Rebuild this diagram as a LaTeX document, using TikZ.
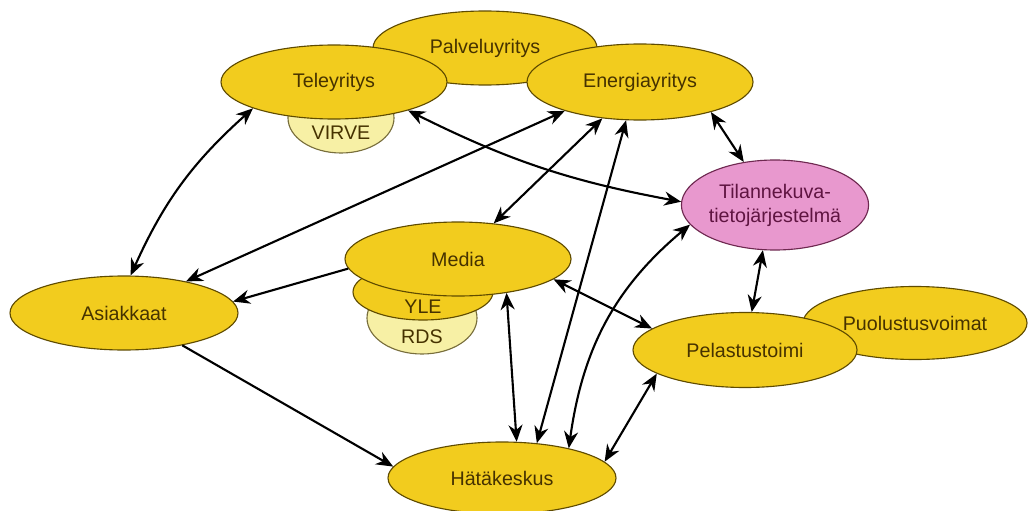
\documentclass[tikz,border=0pt]{standalone}
\usepackage{fontspec}
\setmainfont{Liberation Sans}
\usetikzlibrary{shapes.geometric,arrows.meta}
\definecolor{orgfill}{RGB}{242,204,30}
\definecolor{orgline}{RGB}{95,75,0}
\definecolor{orgtext}{RGB}{70,50,0}
\definecolor{subfill}{RGB}{247,240,165}
\definecolor{subline}{RGB}{120,110,60}
\definecolor{sysfill}{RGB}{232,152,206}
\definecolor{sysline}{RGB}{110,40,80}
\definecolor{systext}{RGB}{95,20,65}
\begin{document}
\begin{tikzpicture}[every node/.style={font=\fontsize{14}{17}\selectfont},
  org/.style={ellipse, draw=orgline, fill=orgfill, line width=0.8pt, inner sep=0pt, text=orgtext},
  sub/.style={ellipse, draw=subline, fill=subfill, line width=0.8pt, inner sep=0pt},
  sys/.style={ellipse, draw=sysline, fill=sysfill, line width=0.8pt, inner sep=0pt, text=systext, align=center},
  >={Stealth[length=12pt,width=10pt]},
  link/.style={<->, line width=1.5pt},
  oneway/.style={->, line width=1.5pt}]
\useasboundingbox (0,0) rectangle (25.725,12.75);

\node (pal) at (12.125, 11.55) [org, minimum width=5.6cm, minimum height=1.85cm] {Palveluyritys};
\node (virve) at (8.525, 9.8) [sub, minimum width=2.65cm, minimum height=1.75cm] {};
\node (virvetxt) at (8.525, 9.425) [text=orgtext] {VIRVE};
\node (tele) at (8.35, 10.7) [org, minimum width=5.65cm, minimum height=1.85cm] {Teleyritys};
\node (ene) at (16.0, 10.7) [org, minimum width=5.65cm, minimum height=1.9cm] {Energiayritys};
\node (tila) at (19.375, 7.625) [sys, minimum width=3.75cm, minimum height=2.25cm] {Tilannekuva-\\tietojärjestelmä};
\node (rds) at (10.55, 4.8) [sub, minimum width=2.75cm, minimum height=1.8cm] {};
\node (rdstxt) at (10.55, 4.325) [text=orgtext] {RDS};
\node (yle) at (10.575, 5.45) [org, minimum width=3.5cm, minimum height=1.4cm] {};
\node (yletxt) at (10.575, 5.075) [text=orgtext] {YLE};
\node (media) at (11.45, 6.275) [org, minimum width=5.65cm, minimum height=1.85cm] {Media};
\node (asi) at (3.1, 4.925) [org, minimum width=5.7cm, minimum height=1.85cm] {Asiakkaat};
\node (hata) at (12.55, 0.8) [org, minimum width=5.7cm, minimum height=1.8cm] {Hätäkeskus};
\node (puo) at (22.875, 4.675) [org, minimum width=5.6cm, minimum height=1.825cm] {Puolustusvoimat};
\node (pel) at (18.625, 4.0) [org, minimum width=5.6cm, minimum height=1.875cm] {Pelastustoimi};

\draw[link] (asi.80) to[bend left=12] (tele.198);
\draw[link] (asi.27) to (ene.201);
\draw[oneway] (media.185) to (asi.6);
\draw[oneway] (asi.331) to (hata.174);
\draw[link] (tele.339) to[bend right=8] (tila.178);
\draw[link] (media.45) to (ene.224);
\draw[link] (hata.45) to (ene.250);
\draw[link] (ene.337) to (tila.126);
\draw[link] (media.325) to (hata.68);
\draw[link] (media.348) to (pel.167);
\draw[link] (hata.24) to[out=82, in=220] (tila.193);
\draw[link] (hata.9) to (pel.195);
\draw[link] (tila.255) to (pel.80);
\end{tikzpicture}
\end{document}
